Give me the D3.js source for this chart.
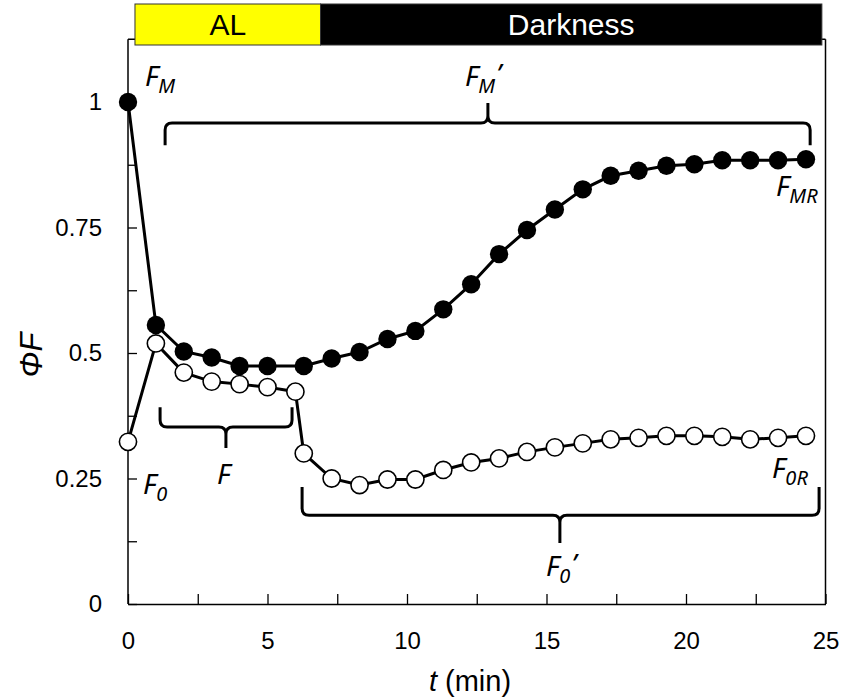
<!DOCTYPE html>
<html>
<head>
<meta charset="utf-8">
<script src="https://cdn.jsdelivr.net/npm/d3@7"></script>
<style>
  html, body { margin: 0; padding: 0; background: #fff; }
  svg { display: block; }
</style>
</head>
<body>
<svg id="chart" width="844" height="698"></svg>
<script>
// ---------------- DATA ----------------
const timeFilled = [0, 1, 2, 3, 4, 5, 6.3, 7.3, 8.3, 9.3, 10.3, 11.3, 12.3, 13.3, 14.3, 15.3, 16.3, 17.3, 18.3, 19.3, 20.3, 21.3, 22.3, 23.3, 24.3];
const fmValues   = [1.0, 0.556, 0.503, 0.491, 0.474, 0.474, 0.474, 0.489, 0.502, 0.528, 0.544, 0.587, 0.637, 0.697, 0.745, 0.786, 0.826, 0.853, 0.863, 0.873, 0.876, 0.884, 0.884, 0.884, 0.886];

const timeOpen = [0, 1, 2, 3, 4, 5, 6, 6.3, 7.3, 8.3, 9.3, 10.3, 11.3, 12.3, 13.3, 14.3, 15.3, 16.3, 17.3, 18.3, 19.3, 20.3, 21.3, 22.3, 23.3, 24.3];
const f0Values = [0.323, 0.519, 0.461, 0.443, 0.438, 0.432, 0.423, 0.300, 0.250, 0.237, 0.248, 0.248, 0.267, 0.282, 0.290, 0.303, 0.312, 0.320, 0.328, 0.331, 0.335, 0.335, 0.333, 0.328, 0.331, 0.335];

const xTickValues = [0, 2.5, 5, 7.5, 10, 12.5, 15, 17.5, 20, 22.5, 25];
const xTickLabels = ["0", "", "5", "", "10", "", "15", "", "20", "", "25"];
const yTickValues = [0, 0.125, 0.25, 0.375, 0.5, 0.625, 0.75, 0.875, 1];
const yTickLabels = ["0", "", "0.25", "", "0.5", "", "0.75", "", "1"];

const phaseLabels = ["AL", "Darkness"];
const phaseStart  = [0.25, 6.9];
const phaseEnd    = [6.9, 24.87];

// brackets: [tStart, tEnd, tMid, vLine, vEnd, vTip]
const bracketNames = ["FM'", "F", "F0'"];
const bracketT1    = [1.33, 1.15, 6.24];
const bracketT2    = [24.45, 5.88, 24.77];
const bracketTM    = [12.9, 3.51, 15.48];
const bracketVLine = [0.958, 0.3526, 0.177];
const bracketVEnd  = [0.914, 0.392, 0.233];
const bracketVTip  = [0.998, 0.311, 0.1215];

// ---------------- LAYOUT ----------------
const svg = d3.select("#chart");
const x = d3.scaleLinear().domain([0, 25]).range([128, 825.5]);
const y = d3.scaleLinear().domain([0, 1.125]).range([604, 39.25]);

const tickFont = "'Liberation Sans', Arial, sans-serif";
const italicFont = "'Noto Sans', 'Open Sans', sans-serif";

// frame
const frame = svg.append("g").attr("stroke", "#000").attr("stroke-width", 1.5).attr("fill", "none");
frame.append("line").attr("x1", x(0)).attr("x2", x(25)).attr("y1", y(1.125)).attr("y2", y(1.125));
frame.append("line").attr("x1", x(25)).attr("x2", x(25)).attr("y1", y(0)).attr("y2", y(1.125));

// axes
const xAxis = d3.axisBottom(x).tickValues(xTickValues)
  .tickFormat((d, i) => xTickLabels[i]).tickSizeInner(-10).tickSizeOuter(0).tickPadding(28);
const gx = svg.append("g").attr("transform", `translate(0,${y(0)})`).call(xAxis);

const yAxis = d3.axisLeft(y).tickValues(yTickValues)
  .tickFormat((d, i) => yTickLabels[i]).tickSizeInner(-9).tickSizeOuter(0).tickPadding(26);
const gy = svg.append("g").attr("transform", `translate(${x(0)},0)`).call(yAxis);

[gx, gy].forEach(g => {
  g.select(".domain").attr("stroke", "#000").attr("stroke-width", 1.5);
  g.selectAll(".tick line").attr("stroke", "#000").attr("stroke-width", 1.3);
  g.selectAll(".tick text").attr("fill", "#000").attr("font-family", tickFont).attr("font-size", 24);
});
gy.select(".domain").attr("d", `M0,${y(0)}V${y(1.125)}`);

// phase bar
const phaseG = svg.append("g");
phaseLabels.forEach((lab, i) => {
  phaseG.append("rect")
    .attr("x", x(phaseStart[i])).attr("y", 4)
    .attr("width", x(phaseEnd[i]) - x(phaseStart[i])).attr("height", 41)
    .attr("fill", i === 0 ? "#ffff00" : "#000")
    .attr("stroke", "#333").attr("stroke-width", 1);
  phaseG.append("text")
    .attr("x", (x(phaseStart[i]) + x(phaseEnd[i])) / 2).attr("y", 35)
    .attr("text-anchor", "middle")
    .attr("font-family", tickFont).attr("font-size", 30)
    .attr("fill", i === 0 ? "#000" : "#fff")
    .text(lab);
});

// brackets
function bracketPath(t1, t2, tm, vL, vE, vT) {
  const x1 = x(t1), x2 = x(t2), xm = x(tm);
  const yl = y(vL), ye = y(vE), yt = y(vT);
  const r = 7;
  const de = Math.sign(ye - yl);
  const dt = Math.sign(yt - yl);
  return `M${x1},${ye} L${x1},${yl + de * r} Q${x1},${yl} ${x1 + r},${yl} ` +
         `L${xm - r},${yl} Q${xm},${yl} ${xm},${yl + dt * r} L${xm},${yt} ` +
         `M${xm},${yl + dt * r} Q${xm},${yl} ${xm + r},${yl} ` +
         `L${x2 - r},${yl} Q${x2},${yl} ${x2},${yl + de * r} L${x2},${ye}`;
}
bracketNames.forEach((n, i) => {
  svg.append("path")
    .attr("d", bracketPath(bracketT1[i], bracketT2[i], bracketTM[i], bracketVLine[i], bracketVEnd[i], bracketVTip[i]))
    .attr("fill", "none").attr("stroke", "#000").attr("stroke-width", 3)
    .attr("stroke-linecap", "butt").attr("stroke-linejoin", "round");
});

// series
const line = d3.line().x(d => x(d[0])).y(d => y(d[1]));
const fmData = timeFilled.map((t, i) => [t, fmValues[i]]);
const f0Data = timeOpen.map((t, i) => [t, f0Values[i]]);

svg.append("path").datum(fmData).attr("d", line)
  .attr("fill", "none").attr("stroke", "#000").attr("stroke-width", 3);
svg.append("g").selectAll("circle").data(fmData).join("circle")
  .attr("cx", d => x(d[0])).attr("cy", d => y(d[1])).attr("r", 9.2)
  .attr("fill", "#000");

svg.append("path").datum(f0Data).attr("d", line)
  .attr("fill", "none").attr("stroke", "#000").attr("stroke-width", 3);
svg.append("g").selectAll("circle").data(f0Data).join("circle")
  .attr("cx", d => x(d[0])).attr("cy", d => y(d[1])).attr("r", 8.6)
  .attr("fill", "#fff").attr("stroke", "#000").attr("stroke-width", 1.6);

// annotation labels (italic F with subscripts)
const annLabels = [
  { main: "F", sub: "M", suffix: "", px: 145, py: 86 },
  { main: "F", sub: "M", suffix: "’", px: 465, py: 86 },
  { main: "F", sub: "MR", suffix: "", px: 776, py: 196 },
  { main: "F", sub: "0", suffix: "", px: 143, py: 494 },
  { main: "F", sub: "", suffix: "", px: 217, py: 484 },
  { main: "F", sub: "0", suffix: "’", px: 546, py: 576 },
  { main: "F", sub: "0R", suffix: "", px: 772, py: 478 }
];
annLabels.forEach(a => {
  const t = svg.append("text").attr("x", a.px).attr("y", a.py)
    .attr("font-family", italicFont).attr("font-style", "italic")
    .attr("font-size", 28).attr("fill", "#000");
  t.append("tspan").text(a.main);
  if (a.sub) t.append("tspan").attr("font-size", 20).attr("dy", 7).text(a.sub);
  if (a.suffix) t.append("tspan").attr("dy", -9).attr("dx", 1).text(a.suffix);
});

// axis titles
const xt = svg.append("text").attr("x", 470).attr("y", 691).attr("text-anchor", "middle")
  .attr("font-family", tickFont).attr("font-size", 29).attr("fill", "#000");
xt.append("tspan").attr("font-style", "italic").text("t");
xt.append("tspan").text(" (min)");

svg.append("text")
  .attr("transform", "translate(42,355) rotate(-90)")
  .attr("text-anchor", "middle")
  .attr("font-family", tickFont).attr("font-style", "italic")
  .attr("font-size", 31).attr("fill", "#000")
  .text("ΦF");
</script>
</body>
</html>
